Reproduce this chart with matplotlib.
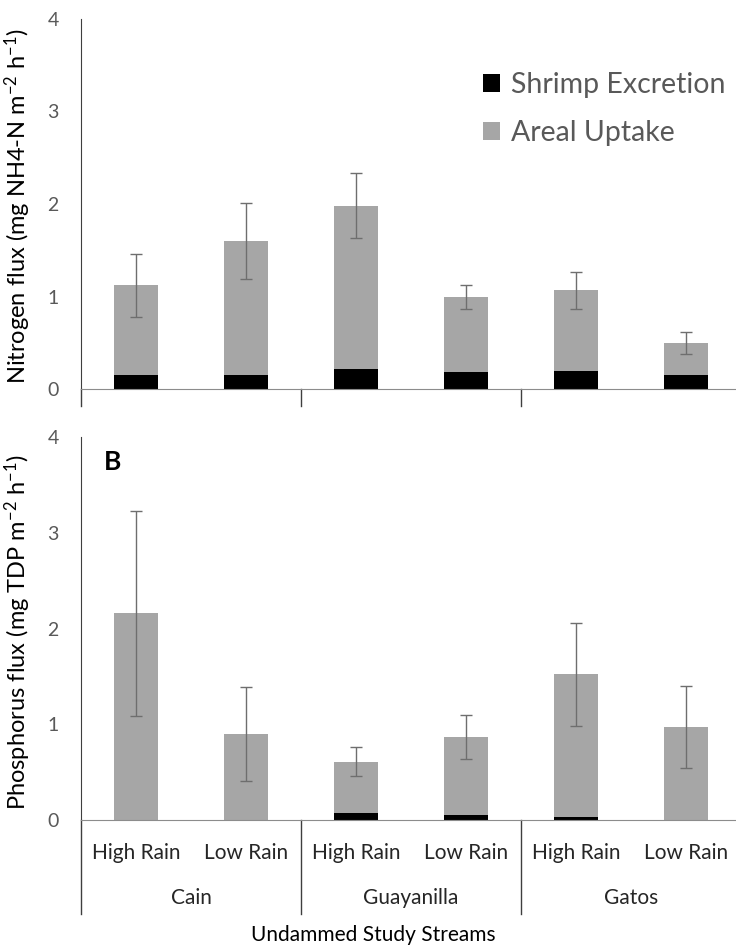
import numpy as np
import matplotlib
matplotlib.use("Agg")
import matplotlib.pyplot as plt
import matplotlib.transforms as mtransforms
from matplotlib.patches import Patch

plt.rcParams['font.family'] = ['Lato', 'DejaVu Sans']
plt.rcParams['mathtext.fontset'] = 'custom'
plt.rcParams['mathtext.rm'] = 'Lato'
plt.rcParams['mathtext.it'] = 'Lato:italic'
plt.rcParams['mathtext.bf'] = 'Lato:bold'

# data
streams = ["Cain", "Guayanilla", "Gatos"]
seasons = ["High Rain", "Low Rain"]

# panel A - nitrogen (mg NH4-N m-2 h-1)
n_excretion = [0.15, 0.15, 0.22, 0.18, 0.19, 0.15]
n_total = [1.12, 1.60, 1.98, 0.99, 1.07, 0.50]
n_err = [0.34, 0.41, 0.35, 0.13, 0.20, 0.12]

# panel B - phosphorus (mg TDP m-2 h-1)
p_excretion = [0.0, 0.0, 0.07, 0.05, 0.03, 0.0]
p_total = [2.16, 0.90, 0.61, 0.87, 1.52, 0.97]
p_err = [1.07, 0.49, 0.15, 0.23, 0.54, 0.43]

black = "#000000"
grey = "#a6a6a6"
text_grey = "#595959"

W, H = 736, 949
fig = plt.figure(figsize=(W / 100, H / 100), dpi=100)

def px_axes(left, top, right, bottom):
    return fig.add_axes([left / W, 1 - bottom / H, (right - left) / W, (bottom - top) / H])

ax1 = px_axes(81, 19, 741, 389)
ax2 = px_axes(81, 437, 741, 820)

x = np.arange(6)


def draw_panel(ax, excr, total, err, div_len):
    excr = np.array(excr)
    total = np.array(total)
    uptake = total - excr
    ax.bar(x, excr, width=0.4, color=black, label="Shrimp Excretion", zorder=2)
    ax.bar(x, uptake, bottom=excr, width=0.4, color=grey, label="Areal Uptake", zorder=2)
    ax.errorbar(x, total, yerr=err, fmt='none', ecolor='#6e6e6e', elinewidth=1,
                capsize=4, capthick=1, zorder=3)
    ax.set_xlim(-0.5, 5.5)
    ax.set_ylim(0, 4)
    ax.set_yticks([0, 1, 2, 3, 4])
    ax.tick_params(axis='y', length=0, pad=16, labelsize=14, labelcolor=text_grey)
    ax.set_xticks([])
    for s in ['top', 'right']:
        ax.spines[s].set_visible(False)
    ax.spines['left'].set_color('#3f3f3f')
    ax.spines['bottom'].set_color('#8c8c8c')
    # group divider lines hanging below the axis
    trans = mtransforms.blended_transform_factory(ax.transData, ax.transAxes)
    h = ax.get_position().height * H
    for xd in [-0.5, 1.5, 3.5, 5.5]:
        ax.plot([xd, xd], [0, -div_len / h], color='#3f3f3f', lw=1,
                transform=trans, clip_on=False)
    return trans


draw_panel(ax1, n_excretion, n_total, n_err, 17)
trans2 = draw_panel(ax2, p_excretion, p_total, p_err, 94)

fig.text(18 / W, 1 - 206 / H, "Nitrogen flux (mg NH4-N m$^{-2}$ h$^{-1}$)", rotation=90,
         ha='center', va='center', fontsize=17)
fig.text(18 / W, 1 - 632 / H, "Phosphorus flux (mg TDP m$^{-2}$ h$^{-1}$)", rotation=90,
         ha='center', va='center', fontsize=17)

# category labels
h2 = ax2.get_position().height * H
for i in range(6):
    ax2.text(x[i], -(853 - 820) / h2, seasons[i % 2], transform=trans2,
             ha='center', va='center', fontsize=15, color='#262626')
for g in range(3):
    ax2.text(2 * g + 0.5, -(898 - 820) / h2, streams[g], transform=trans2,
             ha='center', va='center', fontsize=15, color='#262626')

fig.text(373 / W, 1 - 935 / H, "Undammed Study Streams", ha='center', va='center',
         fontsize=15)

ax2.text(0.035, 0.935, "B", transform=ax2.transAxes, fontsize=19, fontweight='bold',
         ha='left', va='center')

handles = [Patch(facecolor=black), Patch(facecolor=grey)]
fig.legend(handles, ["Shrimp Excretion", "Areal Uptake"], loc='center left',
           bbox_to_anchor=(483 / W, 1 - 109 / H), frameon=False, fontsize=20.5,
           handlelength=0.6, handleheight=0.6, handletextpad=0.4, labelspacing=0.78,
           borderpad=0, borderaxespad=0, labelcolor=text_grey)

fig.savefig("out.png", dpi=100)
